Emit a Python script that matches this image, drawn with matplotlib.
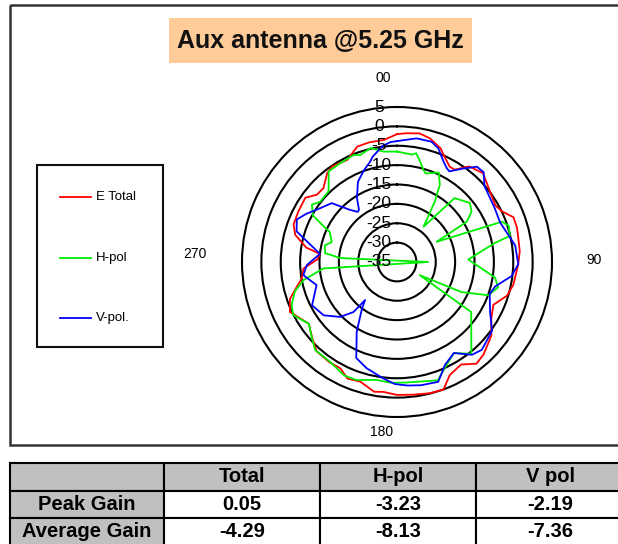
import numpy as np
import matplotlib
matplotlib.use('Agg')
import matplotlib.pyplot as plt
from matplotlib.patches import Rectangle
from matplotlib.transforms import ScaledTranslation

# ---------------- data (angle in degrees, clockwise from top; gain in dB) ----------------
etotal_deg = [0, 4, 10, 15, 21, 25, 29, 32, 37, 44, 50, 55, 60, 64, 69, 74, 79, 85, 91, 101,
              107, 114, 121, 128, 137, 142, 148, 155, 160, 166, 173, 180, 186, 190, 197, 203,
              208, 214, 222, 228, 235, 245, 251, 256, 260, 266, 272, 276, 279, 285, 290, 297,
              305, 310, 315, 322, 326, 334, 341, 347, 354]
etotal_db = [-2.0, -1.7, -1.3, -2.0, -3.6, -5.5, -6.9, -6.9, -4.1, -3.1, -4.4, -5.2, -5.7, -5.0,
             -2.8, -2.8, -3.1, -3.2, -3.7, -4.4, -5.3, -7.8, -6.6, -4.1, -2.3, -1.7, -3.8, -2.8,
             0.05, -0.1, -0.5, -0.7, -1.3, -1.0, -2.7, -2.3, -3.9, -3.8, -4.0, -5.6, -7.2, -4.5,
             -5.8, -8.3, -10.0, -10.8, -14.5, -15.0, -11.3, -7.8, -6.6, -6.4, -6.1, -8.0, -8.1,
             -5.8, -5.2, -5.7, -3.5, -3.3, -3.3]

# the H-pol null near 270 deg falls below the -35 dB centre and is drawn through
# the centre, ending on the 90 deg side (read there as 90 deg, -27 dB)
hpol_deg = [0, 8, 10, 13, 16, 18, 25, 29, 32, 37, 42, 51, 56, 60, 63, 69, 72, 77, 79, 88, 99,
            104, 110, 115, 120, 124, 141, 148, 156, 161, 168, 176, 183, 190, 199, 205, 214,
            223, 228, 235, 243, 248, 254, 259, 265, 90, 274, 277, 283, 287, 294, 296, 299,
            304, 308, 316, 323, 330, 338, 341, 347, 353]
hpol_db = [-6.5, -7.0, -6.5, -8.4, -10.3, -11.0, -9.5, -12.2, -16.6, -23.6, -12.8, -10.8, -11.8,
           -14.2, -23.5, -6.0, -4.7, -5.1, -9.3, -16.6, -9.4, -8.1, -9.9, -16.6, -28.2, -11.9,
           -4.5, -7.3, -4.9, -2.7, -3.5, -3.8, -3.8, -4.1, -2.8, -2.7, -4.0, -4.0, -5.5, -7.2,
           -4.9, -5.7, -7.6, -10.4, -15.9, -27.0, -20.3, -16.3, -15.9, -17.4, -16.0, -13.9,
           -10.2, -8.5, -9.8, -9.6, -5.7, -5.6, -5.2, -5.8, -4.8, -6.3]

vpol_deg = [0, 9, 16, 20, 25, 28, 30, 35, 40, 44, 49, 61, 69, 76, 82, 91, 97, 104, 109, 118,
            126, 136, 141, 148, 155, 161, 169, 175, 181, 187, 196, 203, 210, 217, 220, 221,
            226, 234, 243, 254, 262, 268, 276, 283, 287, 293, 298, 305, 312, 318, 322, 324,
            328, 334, 340, 345, 347, 353, 357]
vpol_db = [-3.8, -2.7, -2.7, -3.8, -6.5, -7.6, -8.0, -5.6, -2.9, -2.8, -5.1, -6.2, -6.5, -5.5,
           -4.2, -3.7, -5.2, -8.9, -9.7, -7.8, -4.7, -3.5, -4.2, -7.3, -5.7, -2.3, -2.6, -3.0,
           -3.5, -4.8, -6.5, -8.1, -14.2, -20.0, -22.2, -17.9, -14.6, -11.6, -10.4, -13.4,
           -10.6, -11.7, -15.0, -11.1, -7.9, -6.9, -8.5, -10.8, -12.3, -16.9, -18.6, -18.3,
           -15.5, -12.0, -9.9, -8.2, -7.1, -4.8, -4.0]

series_names = ['E Total', 'H-pol', 'V-pol.']
series_colors = ['#FF0000', '#00EE00', '#0000FF']

ring_values = [5, 0, -5, -10, -15, -20, -25, -30, -35]
angle_labels = ['00', '90', '180', '270']

title = 'Aux antenna @5.25 GHz'
table_cols = ['', 'Total', 'H-pol', 'V pol']
table_rows = ['Peak Gain', 'Average Gain']
peak_gain = ['0.05', '-3.23', '-2.19']
avg_gain = ['-4.29', '-8.13', '-7.36']

# ---------------- figure ----------------
W, H, DPI = 618, 544, 100
plt.rcParams['font.family'] = ['Liberation Sans', 'DejaVu Sans']
fig = plt.figure(figsize=(W / DPI, H / DPI), dpi=DPI)
fig.patch.set_facecolor('white')

bg = fig.add_axes([0, 0, 1, 1])
bg.set_xlim(0, W)
bg.set_ylim(H, 0)
bg.axis('off')

# chart frame
bg.add_patch(Rectangle((10, 5), 640, 440, fill=False, lw=1.8, ec='#333333'))
# title box
bg.add_patch(Rectangle((169, 18), 303, 45, fc='#FFCC99', ec='none'))
bg.text(320.5, 41, title, ha='center', va='center', fontsize=18, fontweight='bold', color='#111111')

# legend
bg.add_patch(Rectangle((37, 165), 126, 182, fill=False, lw=1.5, ec='#111111'))
for i, (name, col) in enumerate(zip(series_names, series_colors)):
    yy = 197 + i * 60.5
    bg.plot([60, 91], [yy, yy], color=col, lw=1.3)
    bg.text(96, yy, name, ha='left', va='center', fontsize=9.5, color='black')

# polar axes
cx, cy, R = 397, 262, 155
ax = fig.add_axes([(cx - R) / W, (H - cy - R) / H, 2 * R / W, 2 * R / H], projection='polar')
ax.set_theta_zero_location('N')
ax.set_theta_direction(-1)
ax.set_ylim(-35, 5)
ax.set_yticks(ring_values[1:-1])
ax.set_yticklabels([])
ax.set_xticks([])
ax.grid(True, axis='y', color='black', lw=1.5)
ax.spines['polar'].set_linewidth(1.5)
ax.spines['polar'].set_color('black')
ax.set_facecolor('white')

for deg, db, col in [(etotal_deg, etotal_db, series_colors[0]),
                     (hpol_deg, hpol_db, series_colors[1]),
                     (vpol_deg, vpol_db, series_colors[2])]:
    th = np.deg2rad(np.array(deg + [deg[0] + 360], dtype=float))
    rr = np.array(db + [db[0]], dtype=float)
    ax.plot(th, rr, color=col, lw=1.3, clip_on=False)

off = ScaledTranslation(-18 / DPI, 0, fig.dpi_scale_trans)
for v in ring_values:
    ax.text(0, v, str(v), transform=ax.transData + off, ha='center', va='center',
            fontsize=12.5, color='black')

# angle labels
for lab, (x, y) in zip(angle_labels, [(383, 78), (594, 260), (382, 432), (195, 254)]):
    bg.text(x, y, lab, ha='center', va='center', fontsize=10, color='black')

# table
col_x = [10, 164, 320, 476, 640]
row_y = [463, 491, 518, 560]
cells = [table_cols, [table_rows[0]] + peak_gain, [table_rows[1]] + avg_gain]
for r in range(3):
    for c in range(4):
        x0, x1 = col_x[c], col_x[c + 1]
        y0, y1 = row_y[r], row_y[r + 1]
        fc = '#C0C0C0' if (r == 0 or c == 0) else 'white'
        bg.add_patch(Rectangle((x0, y0), x1 - x0, y1 - y0, fc=fc, ec='black', lw=1.5))
        ty = (y0 + min(y1, 545)) / 2
        cxp = (x0 + min(x1, 624)) / 2
        bg.text(cxp, ty, cells[r][c], ha='center', va='center', fontsize=14.5,
                fontweight='bold', color='black')

fig.savefig('out.png', dpi=DPI, facecolor='white')
